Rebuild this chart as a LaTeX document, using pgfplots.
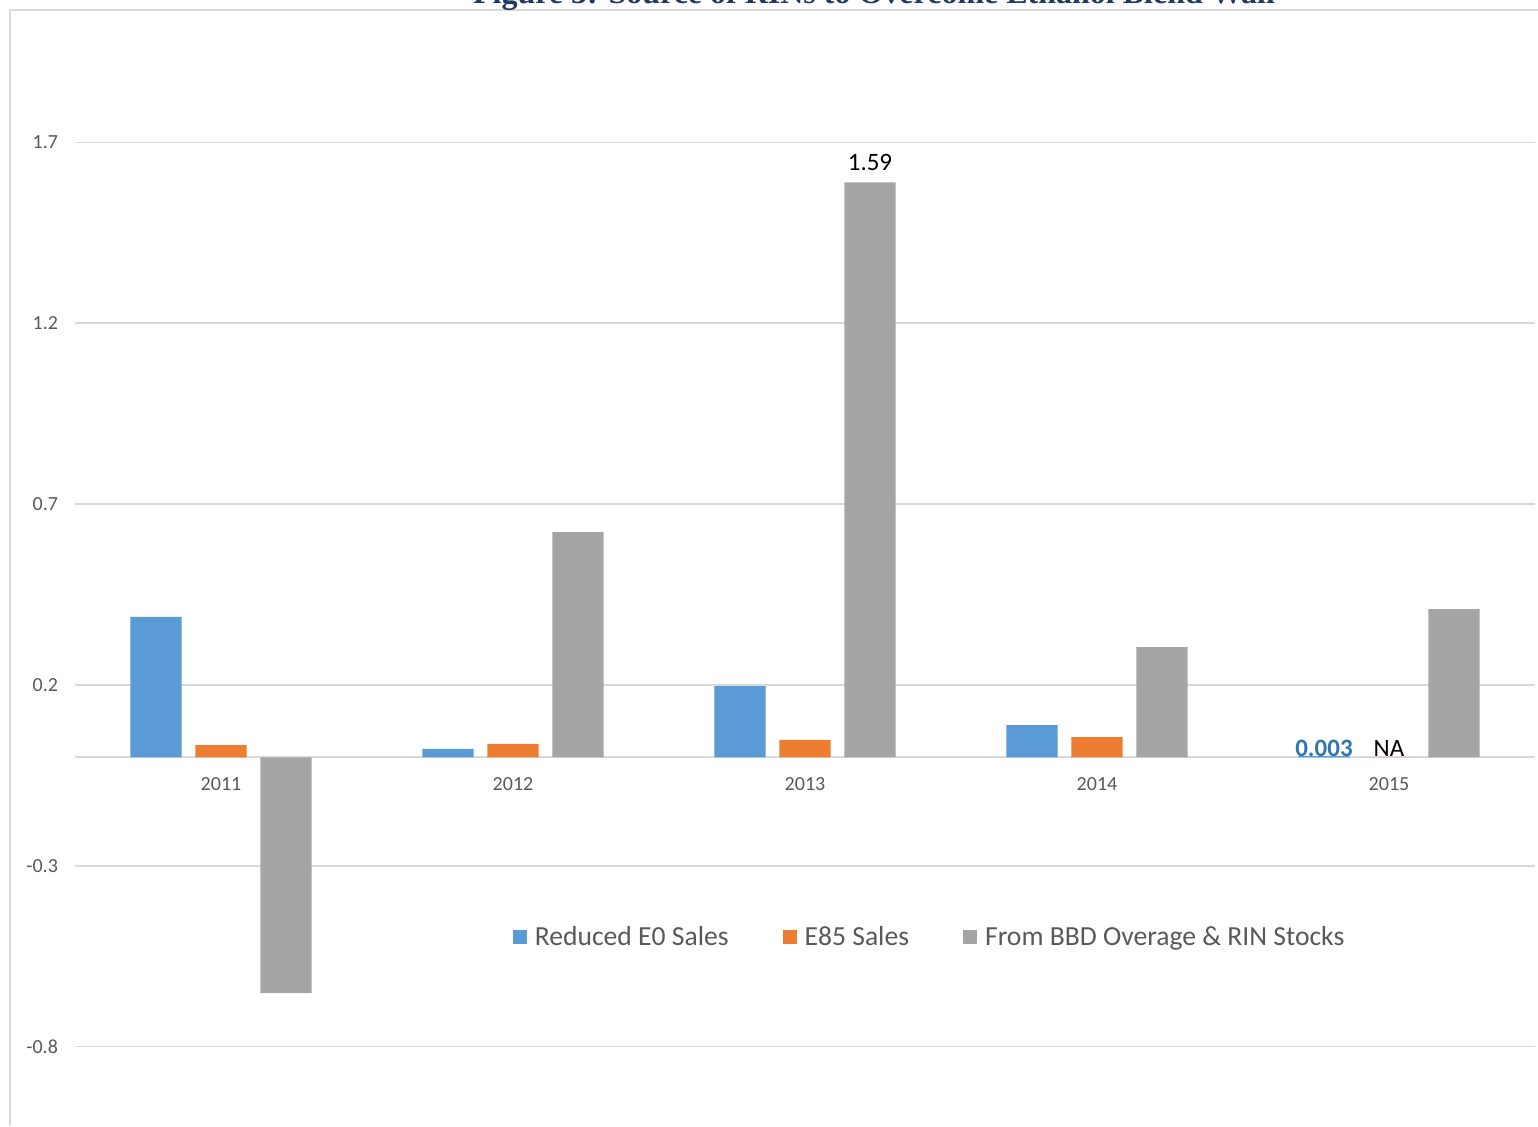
\documentclass[border=0pt]{standalone}
\usepackage{pgfplots}
\pgfplotsset{compat=1.18}
\usepackage{fontspec}
\setmainfont{Carlito}
\newfontfamily\titlefont{Liberation Serif}

\definecolor{eblue}{HTML}{5B9BD5}
\definecolor{eorange}{HTML}{ED7D31}
\definecolor{egray}{HTML}{A5A5A5}
\definecolor{gridgray}{HTML}{D9D9D9}
\definecolor{ticktext}{HTML}{595959}
\definecolor{labelblue}{HTML}{2E75B6}
\definecolor{titleblue}{HTML}{1F3864}

\begin{document}
\begin{tikzpicture}
\begin{axis}[
    at={(37.5pt,0pt)}, anchor=south west,
    scale only axis, width=730pt, height=558pt,
    xmin=-0.5, xmax=4.5, ymin=-1.0196, ymax=2.0666,
    axis x line=middle, axis y line=left,
    x axis line style={draw=gridgray, line width=0.9pt, -},
    y axis line style={draw=none},
    ymajorgrids, grid style={draw=gridgray, line width=0.9pt},
    major tick length=0pt,
    xtick={0,1,2,3,4},
    xticklabels={2011,2012,2013,2014,2015},
    ytick={-0.8,-0.3,0.2,0.7,1.2,1.7},
    yticklabels={-0.8,-0.3,0.2,0.7,1.2,1.7},
    ticklabel style={font=\fontsize{10}{12}\selectfont, text=ticktext},
    xticklabel style={yshift=-6.5pt},
    yticklabel style={xshift=-5pt},
    ybar, bar shift=0pt, bar width=0.1747,
    legend style={at={(0.586,0.169)}, anchor=center, draw=none, fill=none,
        legend columns=3,
        font=\fontsize{13.8}{16}\selectfont, text=ticktext,
        /tikz/every even column/.append style={column sep=25pt}},
    legend image code/.code={\fill[#1] (0pt,-3.5pt) rectangle (7pt,3.5pt);
        \path (0pt,0pt) -- (9pt,0pt);},
    point meta=explicit symbolic,
]
% Reduced E0 Sales
\addplot[fill=eblue, draw=none, nodes near coords,
    every node near coord/.append style={font=\bfseries\fontsize{12.5}{14}\selectfont, text=labelblue, yshift=-4pt}]
    coordinates {(-0.2226,0.388) [] (0.7774,0.023) [] (1.7774,0.197) [] (2.7774,0.089) [] (3.7774,0.003) [0.003]};
% E85 Sales
\addplot[fill=eorange, draw=none, nodes near coords,
    every node near coord/.append style={font=\fontsize{12.5}{14}\selectfont, text=black, yshift=-3pt}]
    coordinates {(0,0.034) [] (1,0.037) [] (2,0.048) [] (3,0.056) [] (4,0) [NA]};
% From BBD Overage & RIN Stocks
\addplot[fill=egray, draw=none, nodes near coords,
    every node near coord/.append style={font=\fontsize{12.5}{14}\selectfont, text=black, yshift=2.5pt}]
    coordinates {(0.2226,-0.652) [] (1.2226,0.623) [] (2.2226,1.59) [1.59] (3.2226,0.305) [] (4.2226,0.41) []};
\legend{Reduced E0 Sales, E85 Sales, From BBD Overage \& RIN Stocks}
\end{axis}
\draw[gridgray, line width=0.9pt] (5pt,0pt) -- (5pt,558pt) -- (769pt,558pt);
\node[anchor=base, font=\titlefont\bfseries\fontsize{16}{19}\selectfont, text=titleblue]
    at (437pt,561pt) {Figure 3: Source of RINs to Overcome Ethanol Blend Wall};
\pgfresetboundingbox
\useasboundingbox (0pt,0pt) rectangle (769pt,563pt);
\end{tikzpicture}
\end{document}
